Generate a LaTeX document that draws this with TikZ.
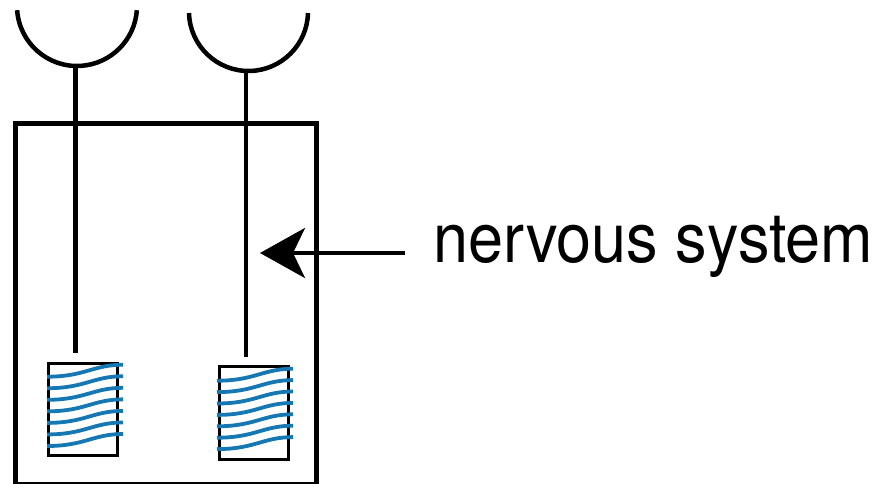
\documentclass[tikz,border=0pt]{standalone}
\usepackage{fontspec}
\setmainfont{TeX Gyre Heros}
\usetikzlibrary{arrows.meta,calc}
\definecolor{wave}{RGB}{22,120,178}
\tikzset{
  thick line/.style={line width=4.5pt, black},
  sensbox/.style={draw, line width=2.5pt, minimum width=69pt, minimum height=92pt, inner sep=0pt},
  wavy/.style={line width=3.8pt, wave},
  label/.style={font=\fontsize{63pt}{70pt}\selectfont, inner sep=0pt, anchor=base west},
}
\begin{document}
\begin{tikzpicture}[x=1pt,y=-1pt]
\useasboundingbox (0,0) rectangle (884,484);
% outer body
\node[draw, line width=4.5pt, minimum width=301pt, minimum height=360pt, inner sep=0pt, anchor=north west] (body) at (13,121.5) {};
% cups
\draw[thick line] (77,6) ++(176:60) arc[start angle=176, end angle=4, radius=60];
\coordinate (cup1) at (75.5,66);
\draw[thick line] (248.5,11.5) ++(178.5:59.5) arc[start angle=178.5, end angle=1.5, radius=59.5];
\coordinate (cup2) at (246,71);
% sensory boxes
\node[sensbox, anchor=north west] (s1) at (47,362) {};
\node[sensbox, anchor=north west, minimum height=93pt] (s2) at (218,365) {};
\coordinate (n1) at (75.5,353);
\coordinate (n2) at (246,357);
% stems
\draw[thick line] (cup1) -- (n1);
\draw[thick line] (cup2) -- (n2);
% waves
\foreach \y in {0,1,...,6}{
  \draw[wavy] ($(s1.north west)+(0,14.7+11.55*\y)$) .. controls +(38,0) and +(-30,0) .. ++(76,-12);
  \draw[wavy] ($(s2.north west)+(-1,15.7+11.4*\y)$) .. controls +(38,0) and +(-30,0) .. ++(76,-12);
}
% label and arrow
\node[label] (lab) at (433,262) {\scalebox{1}[1.1]{nervous system}};
\coordinate (tail) at (405,253);
\coordinate (tip) at (260,253);
\draw[line width=3.8pt, -{Stealth[length=45pt,width=50pt,inset=12pt]}] (tail) -- (tip);
\end{tikzpicture}
\end{document}
